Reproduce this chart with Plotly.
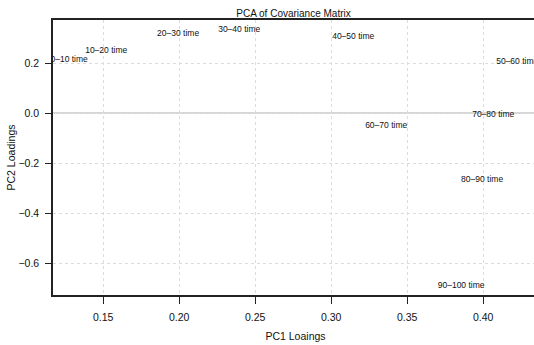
import plotly.graph_objects as go

labels = ["0–10 time", "10–20 time", "20–30 time", "30–40 time", "40–50 time",
          "50–60 time", "60–70 time", "70–80 time", "80–90 time", "90–100 time"]
pc1 = [0.1276, 0.152, 0.1993, 0.2395, 0.3145, 0.4224, 0.3362, 0.4066, 0.3993, 0.3855]
pc2 = [0.212, 0.248, 0.316, 0.332, 0.304, 0.204, -0.052, -0.008, -0.268, -0.692]

x_ticks = [0.15, 0.20, 0.25, 0.30, 0.35, 0.40]
x_tick_text = ["0.15", "0.20", "0.25", "0.30", "0.35", "0.40"]
y_ticks = [0.2, 0.0, -0.2, -0.4, -0.6]
y_tick_text = ["0.2", "0.0", "−0.2", "−0.4", "−0.6"]

FONT = "Liberation Sans, Arial, sans-serif"
W = 538  # slightly wider than the window so the right edge is cut like the reference

fig = go.Figure()
fig.add_trace(go.Scatter(
    x=pc1, y=pc2, mode="text", text=labels,
    textposition="middle center",
    textfont=dict(family=FONT, size=8.5, color="#111"),
    cliponaxis=True, showlegend=False, hoverinfo="skip",
))

fig.add_hline(y=0, line=dict(color="#c8c8c8", width=1.5), layer="below")

fig.update_layout(
    width=W, height=345,
    margin=dict(l=53, r=0, t=20, b=50, autoexpand=False),
    paper_bgcolor="white", plot_bgcolor="white",
    font=dict(family=FONT, color="#111"),
    title=dict(text="PCA of Covariance Matrix", x=(53 + 534) / 2 / W, xanchor="center",
               y=1 - 13 / 345, yanchor="middle", font=dict(size=10, family=FONT, color="#111")),
    xaxis=dict(
        range=[0.117, 0.117 + (W - 53) / 1520], tickvals=x_ticks, ticktext=x_tick_text,
        showgrid=True, gridcolor="#dcdcdc", griddash="dot", gridwidth=1,
        zeroline=False, showline=True, linecolor="#222", linewidth=1.5, mirror=True,
        ticks="outside", ticklen=7, tickcolor="#222", tickwidth=1.2,
        tickfont=dict(size=10.5, family=FONT, color="#111"), automargin=False,
        ticklabelstandoff=5,
        title=dict(text="PC1 Loaings", font=dict(size=10.5, family=FONT, color="#111"), standoff=10),
    ),
    yaxis=dict(
        range=[-0.728, 0.372], tickvals=y_ticks, ticktext=y_tick_text,
        showgrid=True, gridcolor="#dcdcdc", griddash="dot", gridwidth=1,
        zeroline=False, showline=True, linecolor="#222", linewidth=1.5, mirror=False,
        ticks="outside", ticklen=6, tickcolor="#222", tickwidth=1.2,
        tickfont=dict(size=10.5, family=FONT, color="#111"), automargin=False,
        ticklabelstandoff=4,
        title=dict(text="PC2 Loadings", font=dict(size=10.5, family=FONT, color="#111"), standoff=1),
    ),
)

fig.write_html("out.html", config={"displayModeBar": False},
               post_script="document.body.style.margin='0';document.body.style.overflow='hidden';")
